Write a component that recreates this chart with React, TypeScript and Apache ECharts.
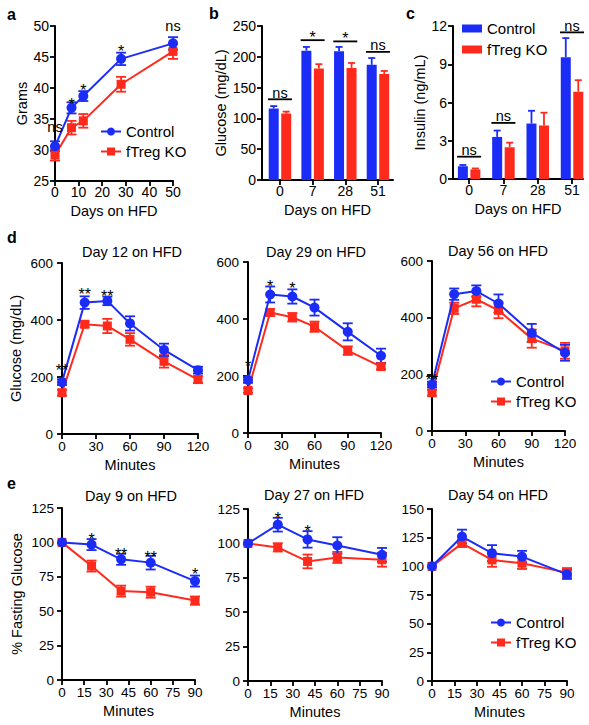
import React, { useEffect, useRef } from 'react';
import * as echarts from 'echarts';

const BLUE = '#1b2cf7';
const RED = '#ff2a1c';
const FONT = 'Arial, "Liberation Sans", Helvetica, sans-serif';

// ---- Panel a: body weight (Grams) ----
const aDays = [0, 7, 12, 28, 50];
const aCtrl = [30.6, 36.8, 38.7, 44.7, 47.2];
const aCtrlErr = [0.8, 0.9, 0.8, 1.0, 1.0];
const aKO = [29.2, 33.6, 34.7, 40.6, 45.9];
const aKOErr = [0.9, 1.1, 1.1, 1.2, 1.2];
const aSigText = ['ns', '*', '*', '*', 'ns'];
const aSigY = [33.5, 38.0, 40.2, 46.4, 49.8];

// ---- Panel b: fasting glucose bars ----
const bCats = ['0', '7', '28', '51'];
const bCtrl = [116, 210, 209, 187];
const bCtrlErr = [4, 6, 7, 11];
const bKO = [108, 181, 182, 172];
const bKOErr = [3, 7, 8, 5];
const bSigText = ['ns', '*', '*', 'ns'];
const bSigY = [131, 227, 225, 208];

// ---- Panel c: insulin bars ----
const cCats = ['0', '7', '28', '51'];
const cCtrl = [1.0, 3.3, 4.35, 9.55];
const cCtrlErr = [0.1, 0.5, 1.0, 1.5];
const cKO = [0.75, 2.5, 4.2, 6.85];
const cKOErr = [0.08, 0.35, 1.0, 0.9];
const cSigIdx = [0, 1, 3];
const cSigText = ['ns', 'ns', 'ns'];
const cSigY = [1.75, 4.4, 11.5];

// ---- Panel d: GTT ----
const dMin = [0, 20, 40, 60, 90, 120];
const d12Ctrl = [182, 461, 467, 388, 295, 224];
const d12CtrlErr = [10, 22, 15, 25, 22, 12];
const d12KO = [145, 385, 379, 332, 255, 191];
const d12KOErr = [10, 10, 25, 22, 22, 12];
const d12SigX = [0, 20, 40];
const d12SigText = ['**', '**', '**'];
const d12SigY = [234, 501, 494];

const d29Ctrl = [186, 486, 479, 440, 355, 271];
const d29CtrlErr = [10, 28, 25, 28, 30, 25];
const d29KO = [149, 423, 406, 373, 289, 233];
const d29KOErr = [8, 12, 15, 18, 15, 10];
const d29SigX = [0, 20, 40];
const d29SigText = ['*', '*', '*'];
const d29SigY = [247, 528, 521];

const d56Ctrl = [164, 483, 494, 450, 346, 276];
const d56CtrlErr = [10, 20, 20, 32, 32, 28];
const d56KO = [135, 433, 465, 426, 326, 283];
const d56KOErr = [10, 20, 25, 28, 32, 28];
const d56SigX = [0];
const d56SigText = ['**'];
const d56SigY = [192];

// ---- Panel e: ITT ----
const eMin = [0, 20, 40, 60, 90];
const e9Ctrl = [100, 98.4, 87.7, 85.3, 71.9];
const e9CtrlErr = [0, 4, 4, 5, 4];
const e9KO = [100, 82.8, 64.6, 63.8, 57.7];
const e9KOErr = [0, 4, 4, 4, 3];
const e9SigX = [20, 40, 60, 90];
const e9SigText = ['*', '**', '**', '*'];
const e9SigY = [104.9, 93.9, 91.7, 79.3];

const e27Ctrl = [100, 113.6, 102.9, 98.5, 91.7];
const e27CtrlErr = [0, 5, 6, 6, 5];
const e27KO = [100, 97.1, 86.9, 89.8, 88.1];
const e27KOErr = [0, 3, 5, 4, 5];
const e27SigX = [20, 40];
const e27SigText = ['*', '*'];
const e27SigY = [121, 111.6];

const e54Ctrl = [100, 126, 111.5, 108.5, 93];
const e54CtrlErr = [0, 6, 7, 5, 4];
const e54KO = [100, 120, 105.6, 102.7, 94.5];
const e54KOErr = [0, 3, 6, 5, 4];

const LEGEND_NAMES = ['Control', 'fTreg KO'];

function lineSeries(idx: number, xs: number[], ys: number[], name: string, color: string, symbol: string, size: number, z: number) {
  return {
    type: 'line', name, xAxisIndex: idx, yAxisIndex: idx,
    data: xs.map((x, i) => [x, ys[i]]),
    symbol, symbolSize: size, showSymbol: true,
    itemStyle: { color, opacity: 1 },
    lineStyle: { color, width: 2 },
    z, clip: false, silent: true,
  };
}

function errSeries(idx: number, xs: number[], ys: number[], es: number[], color: string, cap: number, z: number) {
  return {
    type: 'custom', xAxisIndex: idx, yAxisIndex: idx, z, silent: true, clip: false,
    data: xs.map((x, i) => [x, ys[i], es[i]]),
    renderItem: (params: any, api: any) => {
      const x = api.value(0), y = api.value(1), e = api.value(2);
      if (!e) return { type: 'group', children: [] };
      const t = api.coord([x, y + e]);
      const b = api.coord([x, y - e]);
      const style = { stroke: color, lineWidth: 1.8, fill: null };
      return {
        type: 'group', children: [
          { type: 'line', shape: { x1: t[0], y1: t[1], x2: b[0], y2: b[1] }, style },
          { type: 'line', shape: { x1: t[0] - cap, y1: t[1], x2: t[0] + cap, y2: t[1] }, style },
          { type: 'line', shape: { x1: b[0] - cap, y1: b[1], x2: b[0] + cap, y2: b[1] }, style },
        ],
      };
    },
  };
}

function barSeries(idx: number, ys: number[], name: string, color: string) {
  return {
    type: 'bar', name, xAxisIndex: idx, yAxisIndex: idx,
    data: ys.map((y, i) => [i, y]),
    barWidth: 10, barGap: '25%',
    itemStyle: { color }, z: 3, silent: true,
  };
}

function barErrSeries(idx: number, ys: number[], es: number[], color: string, dx: number) {
  return {
    type: 'custom', xAxisIndex: idx, yAxisIndex: idx, z: 2, silent: true,
    data: ys.map((y, i) => [i, y, es[i]]),
    renderItem: (params: any, api: any) => {
      const x = api.value(0), y = api.value(1), e = api.value(2);
      const t = api.coord([x, y + e]);
      const b = api.coord([x, y]);
      const cx = t[0] + dx;
      const style = { stroke: color, lineWidth: 1.8, fill: null };
      return {
        type: 'group', children: [
          { type: 'line', shape: { x1: cx, y1: t[1], x2: cx, y2: b[1] }, style },
          { type: 'line', shape: { x1: cx - 3.5, y1: t[1], x2: cx + 3.5, y2: t[1] }, style },
        ],
      };
    },
  };
}

function isStar(s: string) {
  return s.indexOf('*') >= 0;
}

function sigSeries(idx: number, xs: number[], ys: number[], labels: string[], bracket: boolean) {
  return {
    type: 'custom', xAxisIndex: idx, yAxisIndex: idx, z: 6, silent: true, clip: false,
    data: xs.map((x, i) => [x, ys[i]]),
    renderItem: (params: any, api: any) => {
      const i = params.dataIndex;
      const txt = labels[i];
      const star = isStar(txt);
      const shift = star ? 3.6 : -1.3;
      const c = api.coord([api.value(0), api.value(1)]);
      const children: any[] = [];
      let ty = c[1] + shift;
      if (bracket) {
        children.push({ type: 'line', shape: { x1: c[0] - 12, y1: c[1], x2: c[0] + 12, y2: c[1] }, style: { stroke: '#000', lineWidth: 1.8 } });
        ty = c[1] - (star ? 6.5 : 5.5) + shift;
      }
      children.push({
        type: 'text', x: c[0], y: ty,
        style: { text: txt, fill: '#000', fontSize: star ? 16 : 14.5, fontFamily: FONT, align: 'center', verticalAlign: 'middle' },
      });
      return { type: 'group', children };
    },
  };
}

function axisBase(fontSize: number, margin: number) {
  return {
    axisLine: { show: true, onZero: false, lineStyle: { color: '#000', width: 2 } },
    axisTick: { show: true, length: 5, lineStyle: { color: '#000', width: 1.8 } },
    axisLabel: { color: '#000', fontSize, fontFamily: FONT, margin },
    splitLine: { show: false },
    nameTextStyle: { color: '#000', fontSize: 14.5, fontFamily: FONT },
    nameLocation: 'middle',
  };
}

function buildOption() {
  const grids = [
    { left: 55, top: 26, width: 118, height: 155 },
    { left: 262, top: 26, width: 131, height: 154 },
    { left: 453, top: 26, width: 130, height: 153 },
    { left: 62, top: 263, width: 136, height: 171 },
    { left: 248, top: 262, width: 133, height: 171 },
    { left: 432, top: 261, width: 133, height: 170 },
    { left: 62, top: 508, width: 133, height: 172 },
    { left: 248, top: 509, width: 134, height: 172 },
    { left: 432, top: 509, width: 135, height: 172 },
  ];

  const catX = (idx: number, cats: string[], min: number, max: number) => {
    const base: any = axisBase(14, 4);
    return {
      ...base, type: 'value', gridIndex: idx, min, max,
      name: 'Days on HFD', nameGap: 22,
      axisTick: { ...base.axisTick, customValues: [0, 1, 2, 3] },
      axisLabel: { ...base.axisLabel, customValues: [0, 1, 2, 3], formatter: (v: number) => cats[Math.round(v)] },
    };
  };

  const xAxis: any[] = [
    { ...axisBase(14, 4), type: 'value', gridIndex: 0, min: 0, max: 50, interval: 10, name: 'Days on HFD', nameGap: 22 },
    catX(1, bCats, -0.55, 3.46),
    catX(2, cCats, -0.47, 3.32),
    ...[3, 4, 5].map((g) => ({ ...axisBase(13.5, 5), type: 'value', gridIndex: g, min: 0, max: 120, interval: 30, name: 'Minutes', nameGap: 23 })),
    ...[6, 7, 8].map((g) => ({ ...axisBase(13.5, 5), type: 'value', gridIndex: g, min: 0, max: 90, interval: 15, name: 'Minutes', nameGap: 23 })),
  ];

  const yAxis: any[] = [
    { ...axisBase(14, 6), type: 'value', gridIndex: 0, min: 25, max: 50, interval: 5, name: 'Grams', nameGap: 26 },
    { ...axisBase(14, 6), type: 'value', gridIndex: 1, min: 0, max: 250, interval: 50, name: 'Glucose (mg/dL)', nameGap: 33.5 },
    { ...axisBase(14, 6), type: 'value', gridIndex: 2, min: 0, max: 12, interval: 3, name: 'Insulin (ng/mL)', nameGap: 19.5 },
    { ...axisBase(13.5, 9), type: 'value', gridIndex: 3, min: 0, max: 600, interval: 200, name: 'Glucose (mg/dL)', nameGap: 38.5 },
    { ...axisBase(13.5, 9), type: 'value', gridIndex: 4, min: 0, max: 600, interval: 200 },
    { ...axisBase(13.5, 9), type: 'value', gridIndex: 5, min: 0, max: 600, interval: 200 },
    { ...axisBase(13.5, 8), type: 'value', gridIndex: 6, min: 0, max: 125, interval: 25, name: '% Fasting Glucose', nameGap: 38 },
    { ...axisBase(13.5, 8), type: 'value', gridIndex: 7, min: 0, max: 125, interval: 25 },
    { ...axisBase(13.5, 8), type: 'value', gridIndex: 8, min: 0, max: 150, interval: 25 },
  ];

  const series: any[] = [
    // panel a
    lineSeries(0, aDays, aCtrl, 'Control', BLUE, 'circle', 10, 5),
    lineSeries(0, aDays, aKO, 'fTreg KO', RED, 'rect', 9, 4),
    errSeries(0, aDays, aCtrl, aCtrlErr, BLUE, 5, 3),
    errSeries(0, aDays, aKO, aKOErr, RED, 5, 3),
    sigSeries(0, aDays, aSigY, aSigText, false),
    // panel b
    barSeries(1, bCtrl, 'Control', BLUE),
    barSeries(1, bKO, 'fTreg KO', RED),
    barErrSeries(1, bCtrl, bCtrlErr, BLUE, -6.25),
    barErrSeries(1, bKO, bKOErr, RED, 6.25),
    sigSeries(1, [0, 1, 2, 3], bSigY, bSigText, true),
    // panel c
    barSeries(2, cCtrl, 'Control', BLUE),
    barSeries(2, cKO, 'fTreg KO', RED),
    barErrSeries(2, cCtrl, cCtrlErr, BLUE, -6.25),
    barErrSeries(2, cKO, cKOErr, RED, 6.25),
    sigSeries(2, cSigIdx, cSigY, cSigText, true),
  ];

  const linePanels = [
    { idx: 3, xs: dMin, c: d12Ctrl, ce: d12CtrlErr, k: d12KO, ke: d12KOErr, sx: d12SigX, sy: d12SigY, st: d12SigText },
    { idx: 4, xs: dMin, c: d29Ctrl, ce: d29CtrlErr, k: d29KO, ke: d29KOErr, sx: d29SigX, sy: d29SigY, st: d29SigText },
    { idx: 5, xs: dMin, c: d56Ctrl, ce: d56CtrlErr, k: d56KO, ke: d56KOErr, sx: d56SigX, sy: d56SigY, st: d56SigText },
    { idx: 6, xs: eMin, c: e9Ctrl, ce: e9CtrlErr, k: e9KO, ke: e9KOErr, sx: e9SigX, sy: e9SigY, st: e9SigText },
    { idx: 7, xs: eMin, c: e27Ctrl, ce: e27CtrlErr, k: e27KO, ke: e27KOErr, sx: e27SigX, sy: e27SigY, st: e27SigText },
    { idx: 8, xs: eMin, c: e54Ctrl, ce: e54CtrlErr, k: e54KO, ke: e54KOErr, sx: [], sy: [], st: [] },
  ];
  linePanels.forEach((p) => {
    series.push(errSeries(p.idx, p.xs, p.k, p.ke, RED, 5, 2));
    series.push(errSeries(p.idx, p.xs, p.c, p.ce, BLUE, 5, 3));
    series.push(lineSeries(p.idx, p.xs, p.k, 'fTreg KO', RED, 'rect', 9, 4));
    series.push(lineSeries(p.idx, p.xs, p.c, 'Control', BLUE, 'circle', 10, 5));
    if (p.sx.length) series.push(sigSeries(p.idx, p.sx, p.sy, p.st, false));
  });

  const legendBase = {
    orient: 'vertical', itemWidth: 20, itemHeight: 10, itemGap: 5, selectedMode: false,
    textStyle: { color: '#000', fontSize: 15, fontFamily: FONT },
    padding: 0,
  };
  const legend = [
    { ...legendBase, left: 100, top: 124, data: LEGEND_NAMES },
    { ...legendBase, left: 462, top: 21, itemHeight: 8, itemGap: 6, data: LEGEND_NAMES.map((n) => ({ name: n, icon: 'rect' })) },
    { ...legendBase, left: 490, top: 374, data: LEGEND_NAMES },
    { ...legendBase, left: 490, top: 615, data: LEGEND_NAMES },
  ];

  const letter = (t: string, x: number, y: number) => ({
    type: 'text', x, y,
    style: { text: t, fill: '#000', fontSize: 16, fontWeight: 'bold', fontFamily: FONT, align: 'left', verticalAlign: 'middle' },
  });
  const title = (t: string, x: number, y: number) => ({
    type: 'text', x, y,
    style: { text: t, fill: '#000', fontSize: 14.5, fontFamily: FONT, align: 'center', verticalAlign: 'middle' },
  });

  const graphic = [
    letter('a', 7, 14),
    letter('b', 209, 13),
    letter('c', 406, 13),
    letter('d', 7, 237),
    letter('e', 7, 483),
    title('Day 12 on HFD', 132, 252),
    title('Day 29 on HFD', 316, 252),
    title('Day 56 on HFD', 498, 251),
    title('Day 9 on HFD', 131, 496),
    title('Day 27 on HFD', 314, 495),
    title('Day 54 on HFD', 498, 495),
  ];

  return {
    animation: false,
    backgroundColor: '#fff',
    textStyle: { fontFamily: FONT },
    grid: grids,
    xAxis, yAxis, series, legend, graphic,
  };
}

export default function App() {
  const ref = useRef<HTMLDivElement>(null);
  useEffect(() => {
    document.body.style.margin = '0';
    const chart = echarts.init(ref.current as HTMLDivElement, undefined, { renderer: 'svg' });
    chart.setOption(buildOption() as any);
    return () => chart.dispose();
  }, []);
  return <div ref={ref} style={{ width: 589, height: 725 }} />;
}
